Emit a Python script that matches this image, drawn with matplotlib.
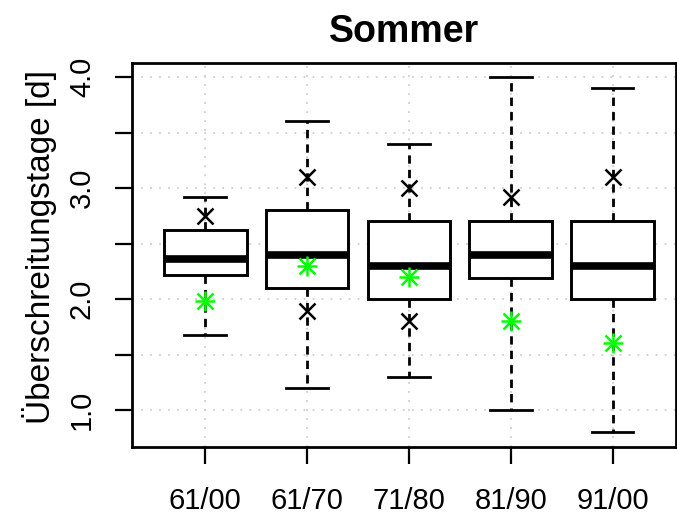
import matplotlib
matplotlib.use("Agg")
from matplotlib import pyplot as plt

plt.rcParams["font.family"] = ["Liberation Sans", "DejaVu Sans"]

labels = ["61/00", "61/70", "71/80", "81/90", "91/00"]
whisker_low = [1.68, 1.20, 1.30, 1.00, 0.80]
q1 = [2.22, 2.10, 2.00, 2.19, 2.00]
median = [2.36, 2.40, 2.30, 2.40, 2.30]
q3 = [2.62, 2.80, 2.70, 2.70, 2.70]
whisker_high = [2.92, 3.60, 3.40, 4.00, 3.90]
# black crosses (two per box where present)
cross_pos = [1, 2, 2, 3, 3, 4, 5]
cross_val = [2.75, 3.10, 1.89, 3.00, 1.80, 2.92, 3.10]
# green asterisks
green_val = [1.98, 2.30, 2.20, 1.80, 1.60]

fig = plt.figure(figsize=(6.77, 5.21), dpi=100)
ax = fig.add_axes([0.195, 0.142, 0.803, 0.737])

positions = list(range(1, len(labels) + 1))

# dotted grid first so boxes sit on top
for p in positions:
    ax.axvline(p, color="#cfcfcf", linestyle=(0, (1, 4)), linewidth=1.3, zorder=0)
for v in [1.0, 1.5, 2.0, 2.5, 3.0, 3.5, 4.0]:
    ax.axhline(v, color="#cfcfcf", linestyle=(0, (1, 4)), linewidth=1.3, zorder=0)

stats = []
for i in range(len(labels)):
    stats.append({
        "whislo": whisker_low[i],
        "q1": q1[i],
        "med": median[i],
        "q3": q3[i],
        "whishi": whisker_high[i],
        "fliers": [],
    })

ax.bxp(
    stats,
    positions=positions,
    widths=0.81,
    patch_artist=True,
    boxprops=dict(facecolor="white", edgecolor="black", linewidth=2.1),
    medianprops=dict(color="black", linewidth=5.5, solid_capstyle="butt"),
    whiskerprops=dict(color="black", linewidth=2.0, linestyle=(0, (3, 2.2))),
    capprops=dict(color="black", linewidth=2.0),
    capwidths=0.41,
    showfliers=False,
    zorder=2,
)

ax.plot(cross_pos, cross_val, linestyle="none", marker="x", markersize=11,
        markeredgewidth=1.8, color="black", zorder=3)
ax.plot(positions, green_val, linestyle="none", marker="+", markersize=15,
        markeredgewidth=1.8, color="#00ff00", zorder=4)
ax.plot(positions, green_val, linestyle="none", marker="x", markersize=11,
        markeredgewidth=1.8, color="#00ff00", zorder=4)

ax.set_xlim(0.28, 5.62)
ax.set_ylim(0.667, 4.126)
ax.set_xticks(positions)
ax.set_xticklabels(labels, fontsize=21)
ax.set_yticks([1.0, 1.5, 2.0, 2.5, 3.0, 3.5, 4.0])
ax.set_yticklabels(["1.0", "", "2.0", "", "3.0", "", "4.0"], fontsize=21,
                   rotation=90, va="center")
ax.tick_params(axis="x", length=12, width=1.6, pad=17)
ax.tick_params(axis="y", length=12, width=1.6, pad=14)

for s in ax.spines.values():
    s.set_linewidth(2.0)

ax.set_ylabel("Überschreitungstage [d]", fontsize=24, labelpad=8)
ax.yaxis.label.set_y(0.52)
ax.set_title("Sommer", fontsize=27, fontweight="bold", pad=15)

fig.savefig("out.png", dpi=100)
